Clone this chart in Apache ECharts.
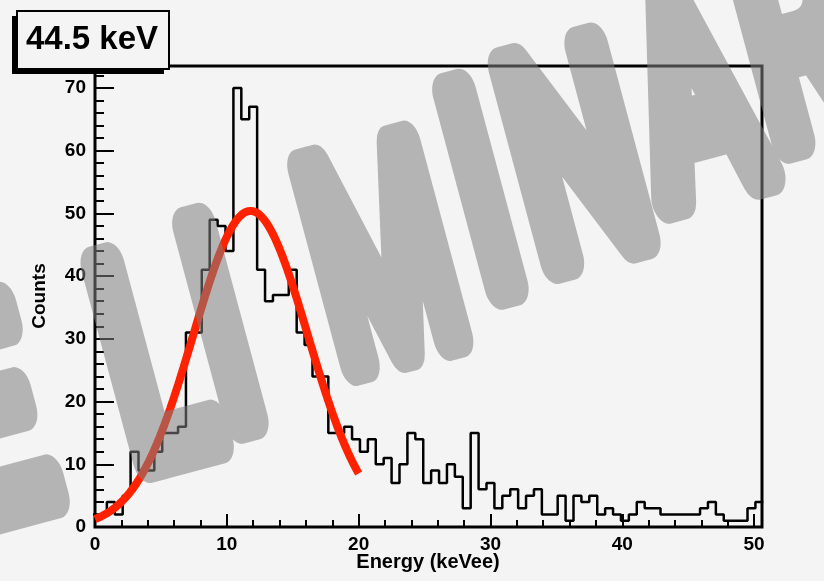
<!DOCTYPE html>
<html>
<head>
<meta charset="utf-8">
<script src="https://cdn.jsdelivr.net/npm/echarts@6/dist/echarts.min.js"></script>
<style>
  html, body { margin: 0; padding: 0; background: #f4f4f4; }
  #main, #stamp { position: absolute; left: 0; top: 0; width: 824px; height: 581px; }
  #stamp { pointer-events: none; opacity: 0.55; }
</style>
</head>
<body>
<div id="main"></div>
<div id="stamp"></div>
<script>
// Histogram: 0.6 keVee bins, bin k centred at k * binWidth
const binWidth = 0.6;
const counts = [
   2,  2,  4,  2,  5, 12,  9,  9, 12, 15,
  15, 16, 31, 31, 41, 49, 48, 44, 70, 65,
  67, 41, 36, 37, 37, 41, 31, 29, 24, 24,
  15, 15, 16, 14, 12, 14, 10, 11,  7, 10,
  15, 14,  7,  9,  7, 10,  8,  3, 15,  6,
   7,  3,  5,  6,  3,  5,  6,  2,  2,  5,
   1,  5,  4,  5,  2,  3,  2,  1,  2,  4,
   3,  3,  2,  2,  2,  2,  2,  3,  4,  2,
   1,  1,  1,  3,  4
];

// Gaussian fit drawn over 0–20 keVee
const fitAmplitude = 50.4;
const fitMean = 11.8;
const fitSigma = 4.35;
const fitRange = [0, 20];

// Axes
const xRange = [0, 50.6];
const yRange = [0, 73.5];
const xTickStep = 10;
const yTickStep = 10;

const titleText = '44.5 keV';
const xTitle = 'Energy (keVee)';
const yTitle = 'Counts';
const stampText = 'PRELIMINARY';

// outline of the histogram as a step line through the bin edges
const histData = [];
counts.forEach((c, k) => {
  histData.push([k * binWidth - binWidth / 2, c]);
});
histData.push([(counts.length - 1) * binWidth + binWidth / 2, counts[counts.length - 1]]);

const fitData = [];
for (let i = 0; i <= 200; i++) {
  const x = fitRange[0] + (fitRange[1] - fitRange[0]) * i / 200;
  const z = (x - fitMean) / fitSigma;
  fitData.push([x, fitAmplitude * Math.exp(-0.5 * z * z)]);
}

const FONT = 'Liberation Sans, Arial, Helvetica, sans-serif';
const tickLabel = {
  color: '#000', fontFamily: FONT, fontWeight: 'bold', fontSize: 19,
};

const chart = echarts.init(document.getElementById('main'), null, { renderer: 'canvas' });
chart.setOption({
  animation: false,
  backgroundColor: '#f4f4f4',
  grid: {
    left: 95, top: 66, width: 667, height: 461,
    show: true, borderColor: '#000', borderWidth: 3, backgroundColor: 'transparent'
  },
  xAxis: {
    type: 'value', min: xRange[0], max: xRange[1], interval: xTickStep,
    axisLine: { show: false },
    axisTick: { inside: true, length: 13, lineStyle: { color: '#000', width: 2 } },
    minorTick: { show: true, splitNumber: 5, length: 7, lineStyle: { color: '#000', width: 2 } },
    splitLine: { show: false },
    axisLabel: Object.assign({ margin: 8, formatter: v => (v % xTickStep === 0 ? String(v) : '') }, tickLabel)
  },
  yAxis: {
    type: 'value', min: yRange[0], max: yRange[1], interval: yTickStep,
    axisLine: { show: false },
    axisTick: { inside: true, length: 19, lineStyle: { color: '#000', width: 2 } },
    minorTick: { show: true, splitNumber: 5, length: 9, lineStyle: { color: '#000', width: 2 } },
    splitLine: { show: false },
    axisLabel: Object.assign({ margin: 9, formatter: v => (v % yTickStep === 0 ? String(v) : '') }, tickLabel)
  },
  series: [
    {
      name: 'data', type: 'line', step: 'end', data: histData,
      showSymbol: false, clip: true, z: 2,
      lineStyle: { color: '#000', width: 2.5 }
    },
    {
      name: 'fit', type: 'line', data: fitData,
      showSymbol: false, clip: true, z: 3,
      lineStyle: { color: '#ff2200', width: 8 }
    }
  ],
  graphic: [
    { type: 'rect', z: 50, shape: { x: 12, y: 16, width: 152, height: 58 }, style: { fill: '#000' } },
    { type: 'rect', z: 51, shape: { x: 17, y: 11, width: 152, height: 58 },
      style: { fill: '#f4f4f4', stroke: '#000', lineWidth: 2 } },
    { type: 'text', z: 52, x: 92, y: 40,
      style: { text: titleText, fill: '#000', font: 'bold 33px ' + FONT, textAlign: 'center', textVerticalAlign: 'middle' } },
    { type: 'text', z: 52, x: 40, y: 296, rotation: Math.PI / 2,
      style: { text: yTitle, fill: '#000', font: 'bold 19px ' + FONT, textAlign: 'center', textVerticalAlign: 'middle' } },
    { type: 'text', z: 52, x: 428, y: 562,
      style: { text: xTitle, fill: '#000', font: 'bold 20px ' + FONT, textAlign: 'center', textVerticalAlign: 'middle' } }
  ]
});

// Translucent stamp laid over the whole figure, one glyph per element so the
// tracking can be set letter by letter; tall narrow letters with rounded strokes.
const stampCentres = [
  [-230, 560], [-120, 505], [-5, 440], [160, 385], [228, 352], [388, 282],
  [488, 218], [582, 182], [700, 120], [805, 64], [905, 14]
];
const stampNarrow = [0.62, 0.62, 0.62, 0.62, 0.62, 0.56, 0.62, 0.62, 0.62, 0.62, 0.62];
const stampAngle = 15 * Math.PI / 180;
const stampGlyphs = stampText.split('').map((ch, i) => ({
  type: 'text', x: stampCentres[i][0], y: stampCentres[i][1],
  rotation: stampAngle, scaleX: stampNarrow[i],
  style: {
    text: ch, fill: '#808080', stroke: '#808080', lineWidth: 44,
    font: '400 282px Roboto, sans-serif', textAlign: 'center', textVerticalAlign: 'middle'
  }
}));

const ctxProto = CanvasRenderingContext2D.prototype;
const plainStrokeText = ctxProto.strokeText;
ctxProto.strokeText = function () {
  this.lineJoin = 'round';
  return plainStrokeText.apply(this, arguments);
};
const stamp = echarts.init(document.getElementById('stamp'), null, { renderer: 'canvas' });
stamp.setOption({ animation: false, backgroundColor: 'transparent', graphic: stampGlyphs });
ctxProto.strokeText = plainStrokeText;
</script>
</body>
</html>
